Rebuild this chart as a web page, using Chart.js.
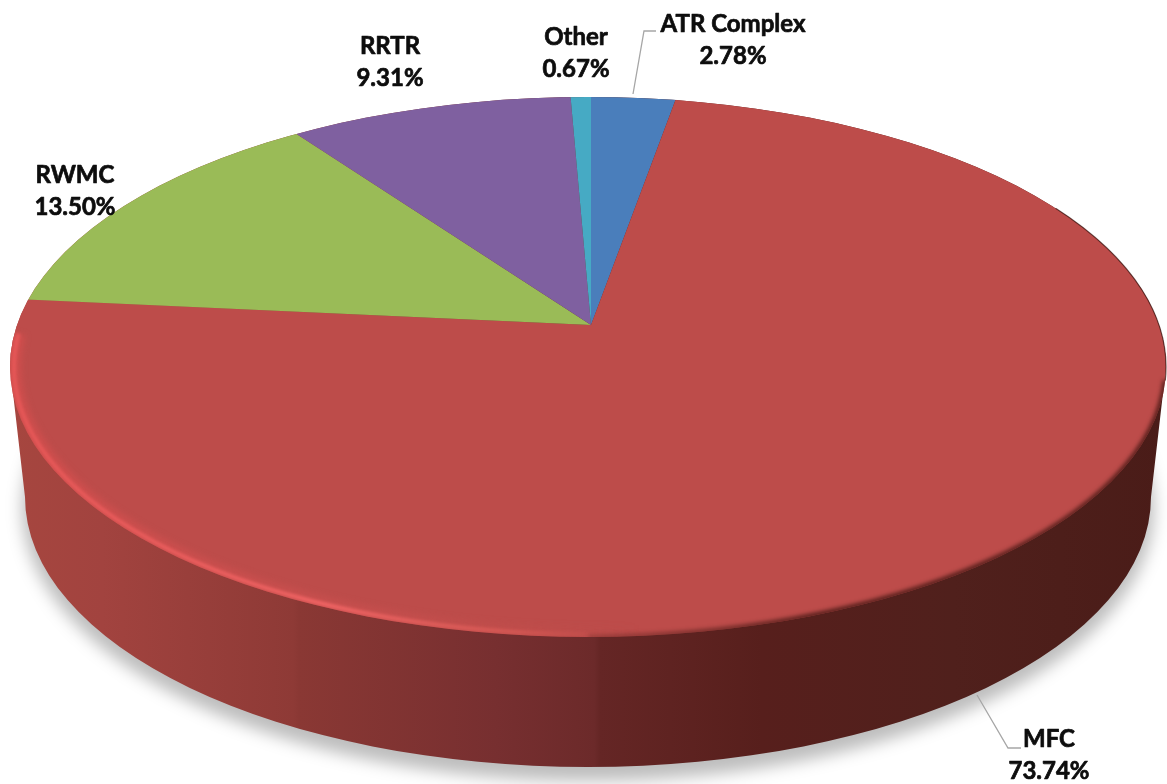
<!DOCTYPE html>
<html>
<head>
<meta charset="utf-8">
<title>Pie</title>
<script src="https://cdn.jsdelivr.net/npm/chart.js@4"></script>
<style>
  html, body { margin: 0; padding: 0; background: #fff; }
  canvas { display: block; }
</style>
</head>
<body>
<canvas id="chartPie" width="1167" height="784"></canvas>
<script>
// Data
const categories = ['ATR Complex', 'MFC', 'RWMC', 'RRTR', 'Other'];
const shares = [2.78, 73.74, 13.50, 9.31, 0.67];
const sliceColors = ['#4a7ebb', '#bd4c4a', '#9abb57', '#7f60a0', '#46aac4'];

// where each label sits, same order as categories
const labelSpots = [[733, 24], [1049, 739], [75, 175], [390, 46], [576, 37]];
const leaders = [
    [[633, 94], [644, 31], [656, 31]],
    [[977, 695], [1008, 748], [1021, 748]]
];

// top face and bottom edge of the disc
const top3d = { x: 588, y: 367, rx: 578, ry: 270 };
const bottom3d = { x: 588, y: 497, rx: 563, ry: 270 };
// the slices meet off the ellipse centre (the original has perspective)
const apex = { x: 591, y: 325 };
const squash = 0.47;

function wallPath(ctx) {
    ctx.beginPath();
    ctx.moveTo(top3d.x - top3d.rx, top3d.y);
    ctx.lineTo(bottom3d.x - bottom3d.rx, bottom3d.y);
    ctx.ellipse(bottom3d.x, bottom3d.y, bottom3d.rx, bottom3d.ry, 0, Math.PI, 0, true);
    ctx.lineTo(top3d.x + top3d.rx, top3d.y);
    ctx.ellipse(top3d.x, top3d.y, top3d.rx, top3d.ry, 0, 0, Math.PI, true);
    ctx.closePath();
}

function topClip(ctx) {
    ctx.beginPath();
    ctx.ellipse(top3d.x, top3d.y, top3d.rx, top3d.ry, 0, 0, Math.PI * 2);
    ctx.clip();
}

const discPlugin = {
    id: 'disc',
    beforeDatasetsDraw(chart) {
        const ctx = chart.ctx;
        const arc = chart.getDatasetMeta(0).data[0];

        // soft shadow under the disc
        ctx.save();
        ctx.filter = 'blur(8px)';
        ctx.fillStyle = 'rgba(0,0,0,0.26)';
        ctx.beginPath();
        ctx.ellipse(bottom3d.x, bottom3d.y + 11, bottom3d.rx + 3, bottom3d.ry + 3, 0, 0, Math.PI * 2);
        ctx.fill();
        ctx.restore();

        // side wall
        const wall = ctx.createLinearGradient(10, 0, 1167, 0);
        const wallStops = [[0, '#a6463f'], [0.08, '#a2433f'], [0.245, '#8e3a36'], [0.25, '#8a3834'],
            [0.42, '#772f30'], [0.505, '#6c2a2a'], [0.51, '#652625'], [0.65, '#571f1c'],
            [0.815, '#50201c'], [1, '#4a1c18']];
        wallStops.forEach(s => wall.addColorStop(s[0], s[1]));
        ctx.fillStyle = wall;
        wallPath(ctx);
        ctx.fill();

        // slices: the library's arcs, squashed and cut to the top face
        ctx.save();
        topClip(ctx);
        const s = 900 / arc.outerRadius;
        ctx.translate(apex.x, apex.y);
        ctx.scale(s, s * squash);
        ctx.translate(-arc.x, -arc.y);
    },
    afterDatasetsDraw(chart) {
        const ctx = chart.ctx;
        ctx.restore();

        ctx.save();
        topClip(ctx);

        // wide soft glow just inside the left and front rim
        const glow = ctx.createLinearGradient(10, 0, 640, 0);
        glow.addColorStop(0, 'rgba(225,80,80,0.55)');
        glow.addColorStop(0.6, 'rgba(215,85,85,0.3)');
        glow.addColorStop(1, 'rgba(200,80,76,0)');
        ctx.strokeStyle = glow;
        ctx.lineWidth = 22;
        ctx.filter = 'blur(3px)';
        ctx.beginPath();
        ctx.ellipse(top3d.x, top3d.y, top3d.rx, top3d.ry, 0, Math.PI * 1.04, Math.PI * 0.46, true);
        ctx.stroke();

        // bright bevel line
        const rim = ctx.createLinearGradient(10, 0, 640, 0);
        rim.addColorStop(0, 'rgba(232,88,88,0.9)');
        rim.addColorStop(0.5, 'rgba(240,100,100,1)');
        rim.addColorStop(0.8, 'rgba(225,95,90,0.6)');
        rim.addColorStop(1, 'rgba(200,80,76,0)');
        ctx.strokeStyle = rim;
        ctx.lineWidth = 4;
        ctx.filter = 'blur(1.5px)';
        ctx.beginPath();
        ctx.ellipse(top3d.x, top3d.y, top3d.rx - 4, top3d.ry - 3, 0, Math.PI * 1.04, Math.PI * 0.46, true);
        ctx.stroke();

        // the face melts into the dark wall at the front right
        const melt = ctx.createLinearGradient(500, 0, 800, 0);
        melt.addColorStop(0, 'rgba(70,24,20,0)');
        melt.addColorStop(1, 'rgba(70,24,20,0.9)');
        ctx.strokeStyle = melt;
        ctx.lineWidth = 5;
        ctx.filter = 'blur(2px)';
        ctx.beginPath();
        ctx.ellipse(top3d.x, top3d.y, top3d.rx, top3d.ry, 0, Math.PI * 0.5, 0.05, true);
        ctx.stroke();
        ctx.restore();

        // thin dark edge, upper right
        ctx.save();
        ctx.strokeStyle = 'rgba(60,20,16,0.7)';
        ctx.lineWidth = 1.2;
        ctx.filter = 'blur(0.5px)';
        ctx.beginPath();
        ctx.ellipse(top3d.x, top3d.y, top3d.rx, top3d.ry, 0, 0.05, -Math.PI * 0.2, true);
        ctx.stroke();
        ctx.restore();

        // leader lines
        ctx.save();
        ctx.strokeStyle = '#a6a6a6';
        ctx.lineWidth = 1.3;
        leaders.forEach(line => {
            ctx.beginPath();
            line.forEach((p, i) => i ? ctx.lineTo(p[0], p[1]) : ctx.moveTo(p[0], p[1]));
            ctx.stroke();
        });

        // labels
        ctx.fillStyle = '#0d0d0d';
        ctx.strokeStyle = '#0d0d0d';
        ctx.lineWidth = 0.7;
        ctx.lineJoin = 'round';
        ctx.font = 'bold 24px Lato';
        ctx.textAlign = 'center';
        ctx.textBaseline = 'middle';
        categories.forEach((name, i) => {
            const spot = labelSpots[i];
            const pct = shares[i].toFixed(2) + '%';
            ctx.fillText(name, spot[0], spot[1]);
            ctx.strokeText(name, spot[0], spot[1]);
            ctx.fillText(pct, spot[0], spot[1] + 32);
            ctx.strokeText(pct, spot[0], spot[1] + 32);
        });
        ctx.restore();
    }
};

var ctx = document.getElementById('chartPie').getContext('2d');
var myPieChart = new Chart(ctx, {
    type: 'pie',
    data: {
        labels: categories,
        datasets: [{
            data: shares,
            backgroundColor: sliceColors,
            borderWidth: 0
        }]
    },
    options: {
        responsive: false,
        animation: false,
        plugins: {
            legend: { display: false },
            tooltip: { enabled: false }
        }
    },
    plugins: [discPlugin]
});
</script>
</body>
</html>
